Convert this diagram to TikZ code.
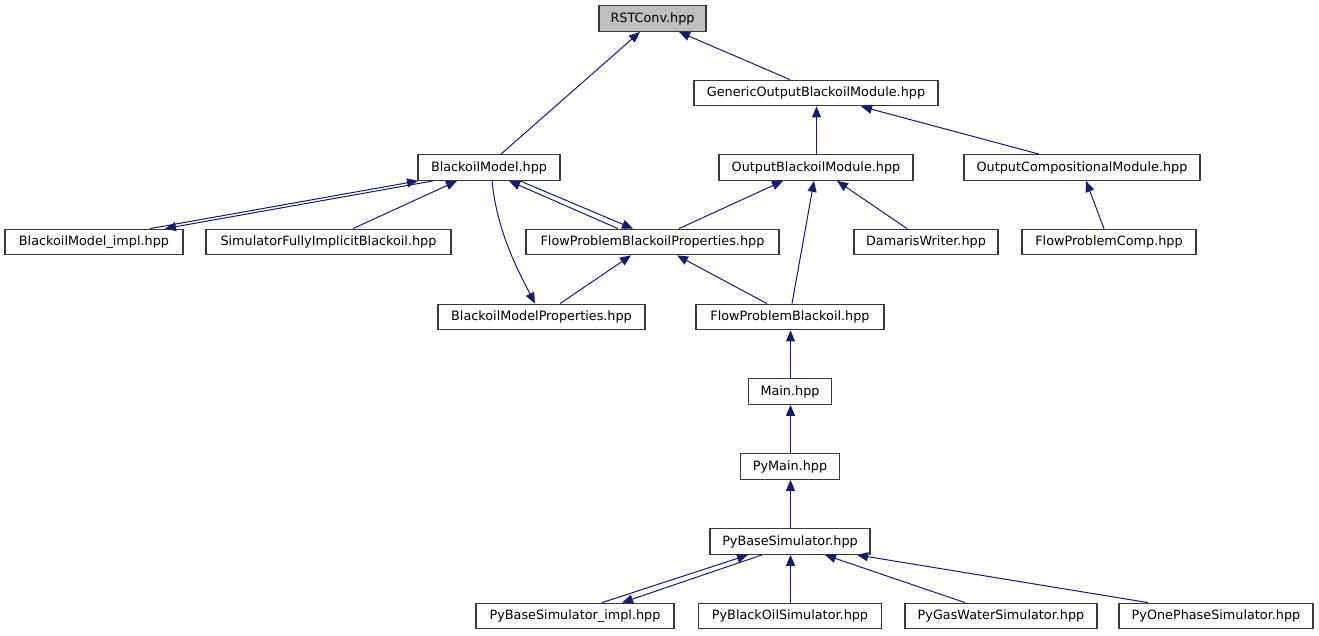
\documentclass[tikz,border=0pt]{standalone}
\usepackage{fontspec}
\setmainfont{DejaVu Sans}
\usetikzlibrary{arrows.meta}
\definecolor{edgeblue}{HTML}{191970}
\definecolor{boxline}{HTML}{3a3a3a}
\begin{document}
\begin{tikzpicture}[x=1pt,y=-1pt,
  file/.style={draw=boxline,line width=1.3pt,rectangle,inner sep=0pt,minimum height=25.5pt,
    font=\fontsize{12.8}{15}\selectfont,fill=white},
  root/.style={file,fill=black!25},
  dep/.style={draw=edgeblue,line width=1pt,-{Triangle[length=11pt,width=9pt]}}]
\useasboundingbox (0,0) rectangle (1319,635);
% row 0
\node[root,minimum width=107pt] (rst) at (652.5,18.5) {RSTConv.hpp};
% row 1
\node[file,minimum width=244pt] (gen) at (816,93) {GenericOutputBlackoilModule.hpp};
% row 2
\node[file,minimum width=142pt] (bm) at (489,167.5) {BlackoilModel.hpp};
\node[file,minimum width=194pt] (obm) at (816,167.5) {OutputBlackoilModule.hpp};
\node[file,minimum width=236pt] (ocm) at (1082,167.5) {OutputCompositionalModule.hpp};
% row 3
\node[file,minimum width=178pt] (impl) at (94,242) {BlackoilModel\_impl.hpp};
\node[file,minimum width=245pt] (sim) at (328.5,242) {SimulatorFullyImplicitBlackoil.hpp};
\node[file,minimum width=253pt] (fpbp) at (652.5,242) {FlowProblemBlackoilProperties.hpp};
\node[file,minimum width=144pt] (dam) at (926,242) {DamarisWriter.hpp};
\node[file,minimum width=174pt] (fpc) at (1109,242) {FlowProblemComp.hpp};
% row 4
\node[file,minimum width=207pt] (bmp) at (541.5,317) {BlackoilModelProperties.hpp};
\node[file,minimum width=188pt] (fpb) at (790,317) {FlowProblemBlackoil.hpp};
% rows 5-7
\node[file,minimum width=83pt] (main) at (790,391.5) {Main.hpp};
\node[file,minimum width=99pt] (pymain) at (790,466.5) {PyMain.hpp};
\node[file,minimum width=160pt] (pybase) at (790,541.5) {PyBaseSimulator.hpp};
% row 8
\node[file,minimum width=198pt] (pyimpl) at (575,616) {PyBaseSimulator\_impl.hpp};
\node[file,minimum width=183pt] (pybo) at (790,616) {PyBlackOilSimulator.hpp};
\node[file,minimum width=192pt] (pygw) at (1001,616) {PyGasWaterSimulator.hpp};
\node[file,minimum width=194pt] (pyop) at (1216,616) {PyOnePhaseSimulator.hpp};
% edges
\draw[dep] ([xshift=12pt]bm.north) -- ([xshift=-12.5pt]rst.south);
\draw[dep] ([xshift=-26pt]gen.north) -- ([xshift=26.5pt]rst.south);
\draw[dep] ([xshift=0.5pt]obm.north) -- ([xshift=0.5pt]gen.south);
\draw[dep] ([xshift=-43pt]ocm.north) -- ([xshift=45pt]gen.south);
\draw[dep] ([xshift=-5pt]fpc.north) -- ([xshift=4pt]ocm.south);
\draw[dep] ([xshift=26.5pt]fpbp.north) -- ([xshift=-33pt]obm.south);
\draw[dep] ([xshift=-19pt]dam.north) -- ([xshift=21pt]obm.south);
\draw[dep] ([xshift=2pt]fpb.north) -- ([xshift=-2pt]obm.south);
\draw[dep] ([xshift=-23pt]fpb.north) -- ([xshift=24.5pt]fpbp.south);
\draw[dep] ([xshift=56pt]impl.north) -- ([xshift=-71pt]bm.south);
\draw[dep] ([xshift=-56pt]bm.south) -- ([xshift=71pt]impl.north);
\draw[dep] ([xshift=24.5pt]sim.north) -- ([xshift=-32pt]bm.south);
\draw[dep] ([xshift=-34.5pt]fpbp.north) -- ([xshift=20pt]bm.south);
\draw[dep] ([xshift=31pt]bm.south) -- ([xshift=-19.5pt]fpbp.north);
\draw[dep] ([xshift=3pt]bm.south) .. controls +(5,50) and +(-18,-35) .. ([xshift=-6.5pt]bmp.north);
\draw[dep] ([xshift=18.5pt]bmp.north) -- ([xshift=-21.5pt]fpbp.south);
\draw[dep] ([xshift=0.5pt]main.north) -- ([xshift=0.5pt]fpb.south);
\draw[dep] ([xshift=0.5pt]pymain.north) -- ([xshift=0.5pt]main.south);
\draw[dep] ([xshift=0.5pt]pybase.north) -- ([xshift=0.5pt]pymain.south);
\draw[dep] ([xshift=0.5pt]pybo.north) -- ([xshift=0.5pt]pybase.south);
\draw[dep] ([xshift=27pt]pyimpl.north) -- ([xshift=-42pt]pybase.south);
\draw[dep] ([xshift=-28pt]pybase.south) -- ([xshift=47pt]pyimpl.north);
\draw[dep] ([xshift=-36pt]pygw.north) -- ([xshift=35pt]pybase.south);
\draw[dep] ([xshift=-68pt]pyop.north) -- ([xshift=67pt]pybase.south);
\end{tikzpicture}
\end{document}
